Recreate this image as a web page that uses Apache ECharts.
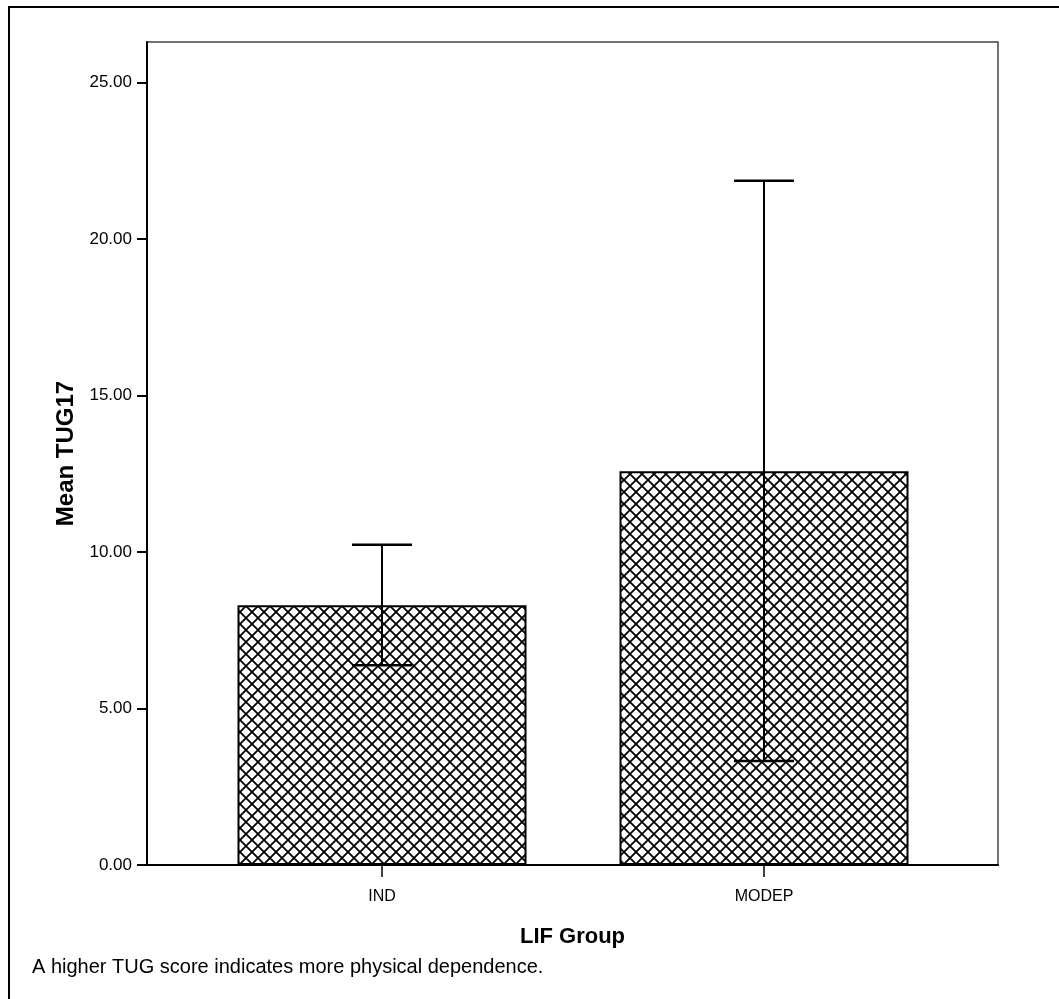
<!DOCTYPE html>
<html>
<head>
<meta charset="utf-8">
<script src="https://cdn.jsdelivr.net/npm/echarts@6/dist/echarts.min.js"></script>
<style>
  html, body { margin: 0; padding: 0; background: #fff; }
  #chart_tug { width: 1059px; height: 999px; }
</style>
</head>
<body>
<div id="chart_tug"></div>
<script>
var dom = document.getElementById('chart_tug');
var myChart = echarts.init(dom, null, { renderer: 'canvas' });

// data
var groups = ['IND', 'MODEP'];
var means = [8.30, 12.58];
var errLow = [6.38, 3.32];
var errHigh = [10.23, 21.87];
var yTicks = [0, 5, 10, 15, 20, 25];

var fontName = 'Liberation Sans, Arial, sans-serif';

// cross-hatch fill for the bars
function makeHatch() {
    var c = document.createElement('canvas');
    c.width = 12;
    c.height = 12;
    var ctx = c.getContext('2d');
    ctx.fillStyle = '#fff';
    ctx.fillRect(0, 0, 12, 12);
    ctx.strokeStyle = '#000';
    ctx.lineWidth = 1.8;
    ctx.beginPath();
    ctx.moveTo(-2, -2); ctx.lineTo(14, 14);
    ctx.moveTo(14, -2); ctx.lineTo(-2, 14);
    ctx.stroke();
    return c;
}
var hatch = makeHatch();

var errData = groups.map(function (g, i) {
    return [i, errLow[i], errHigh[i]];
});

var option = {
    animation: false,
    graphic: [
        {
            type: 'rect',
            shape: { x: 9, y: 7, width: 1120, height: 1100 },
            style: { fill: 'none', stroke: '#000', lineWidth: 2 },
            silent: true
        },
        {
            type: 'text',
            left: 32,
            top: 957,
            style: {
                text: 'A higher TUG score indicates more physical dependence.',
                fontFamily: fontName,
                fontSize: 20,
                fill: '#000'
            }
        }
    ],
    grid: [
        { left: 147, right: 61, top: 42, bottom: 134, show: true, borderColor: '#444', borderWidth: 1.5, backgroundColor: '#fff' },
        { left: 191, right: 104, top: 42, bottom: 134 }
    ],
    xAxis: [
        {
            gridIndex: 0,
            type: 'value',
            min: 0,
            max: 1,
            axisLine: { show: true, lineStyle: { color: '#000', width: 2 } },
            axisTick: { show: false },
            axisLabel: { show: false },
            splitLine: { show: false },
            name: 'LIF Group',
            nameLocation: 'middle',
            nameGap: 61,
            nameTextStyle: { fontFamily: fontName, fontWeight: 'bold', fontSize: 22, color: '#000' }
        },
        {
            gridIndex: 1,
            type: 'category',
            data: groups,
            boundaryGap: true,
            axisLine: { show: false },
            axisTick: { show: true, alignWithLabel: true, length: 12, lineStyle: { color: '#000', width: 1.5 } },
            axisLabel: { margin: 24, fontFamily: fontName, fontSize: 16, color: '#000' }
        }
    ],
    yAxis: [
        {
            gridIndex: 0,
            type: 'value',
            min: 0,
            max: 26.3,
            interval: 5,
            axisLine: { show: true, lineStyle: { color: '#000', width: 2 } },
            axisTick: { show: true, length: 10, customValues: yTicks, lineStyle: { color: '#000', width: 2 } },
            axisLabel: {
                margin: 15,
                fontFamily: fontName,
                fontSize: 17,
                color: '#000',
                customValues: yTicks,
                formatter: function (v) {
                    return v.toFixed(2);
                }
            },
            splitLine: { show: false },
            name: 'Mean TUG17',
            nameLocation: 'middle',
            nameRotate: 90,
            nameGap: 66,
            nameTextStyle: { fontFamily: fontName, fontWeight: 'bold', fontSize: 24, color: '#000' }
        },
        {
            gridIndex: 1,
            type: 'value',
            min: 0,
            max: 26.3,
            show: false
        }
    ],
    series: [
        {
            type: 'bar',
            xAxisIndex: 1,
            yAxisIndex: 1,
            barWidth: 289,
            data: means,
            itemStyle: {
                color: { image: hatch, repeat: 'repeat' },
                borderColor: '#000',
                borderWidth: 2
            },
            z: 2
        },
        {
            type: 'custom',
            xAxisIndex: 1,
            yAxisIndex: 1,
            data: errData,
            z: 5,
            renderItem: function (params, api) {
                var x = api.value(0);
                var lo = api.coord([x, api.value(1)]);
                var hi = api.coord([x, api.value(2)]);
                var half = 30;
                var st = { stroke: '#000', lineWidth: 2 };
                return {
                    type: 'group',
                    children: [
                        { type: 'line', shape: { x1: hi[0], y1: hi[1], x2: lo[0], y2: lo[1] }, style: st },
                        { type: 'line', shape: { x1: hi[0] - half, y1: hi[1], x2: hi[0] + half, y2: hi[1] }, style: { stroke: '#000', lineWidth: 2.5 } },
                        { type: 'line', shape: { x1: lo[0] - half, y1: lo[1], x2: lo[0] + half, y2: lo[1] }, style: { stroke: '#000', lineWidth: 2.5 } }
                    ]
                };
            }
        }
    ]
};

myChart.setOption(option);
window.addEventListener('resize', myChart.resize);
</script>
</body>
</html>
